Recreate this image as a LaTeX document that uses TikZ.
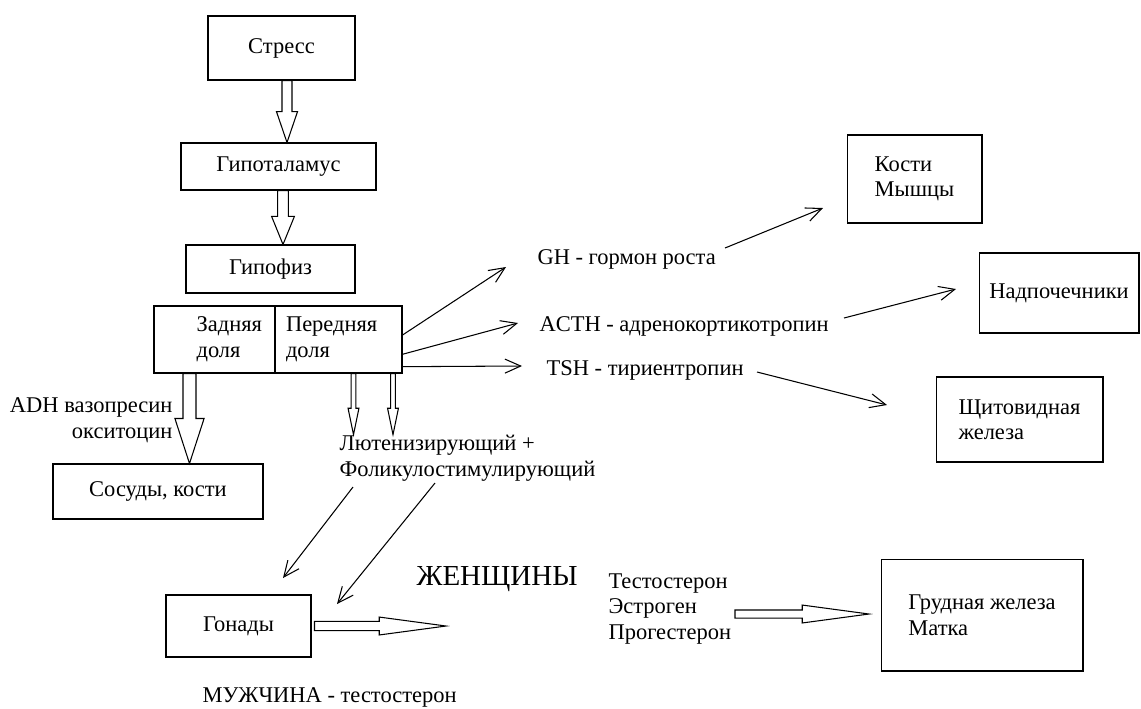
\documentclass[tikz,border=0pt]{standalone}
\usepackage{fontspec}
\setmainfont{Liberation Serif}
\usetikzlibrary{arrows.meta,calc}

\newcommand{\boxfont}{\fontsize{12.8}{14.5}\selectfont}
% hollow block arrows: #1 tail, #2 tip, #3 shaft half, #4 head half, #5 head length
\newcommand{\hollowdown}[5]{%
  \draw[blockarrow] let \p1=(#1), \p2=(#2) in
    (\x1-#3,\y1) -- (\x1-#3,\y2+#5) -- (\x1-#4,\y2+#5) -- (\x1,\y2)
    -- (\x1+#4,\y2+#5) -- (\x1+#3,\y2+#5) -- (\x1+#3,\y1) -- cycle;}
\newcommand{\hollowright}[5]{%
  \draw[blockarrow] let \p1=(#1), \p2=(#2) in
    (\x1,\y1+#3) -- (\x2-#5,\y1+#3) -- (\x2-#5,\y1+#4) -- (\x2,\y1)
    -- (\x2-#5,\y1-#4) -- (\x2-#5,\y1-#3) -- (\x1,\y1-#3) -- cycle;}

\begin{document}
\begin{tikzpicture}[x=0.02cm, y=-0.02cm, line width=0.6pt,
  box/.style={draw, inner sep=0pt, align=center, font=\boxfont},
  lbl/.style={inner sep=0pt, font=\boxfont},
  thinarrow/.style={-{Straight Barb[length=9pt,width=8pt]}},
  blockarrow/.style={draw, fill=white, line join=miter}]
\useasboundingbox (0,0) rectangle (1141,708);

% --- left column ---
\node[box, minimum width=2.94cm, minimum height=1.28cm] (stress) at (281.5,48) {Стресс};
\node[box, minimum width=3.9cm, minimum height=0.94cm] (hypothal) at (278.5,166.5) {Гипоталамус};
\node[box, minimum width=3.38cm, minimum height=0.96cm] (hypophys) at (270.5,269) {Гипофиз};
\node[box, text width=1.9cm, align=right, inner xsep=0.26cm, minimum height=1.34cm]
  (back) at (214.5,339.5) {\begin{tabular}{@{}l@{}}Задняя\\доля\end{tabular}};
\node[box, text width=2.1cm, align=left, inner xsep=0.22cm, minimum height=1.34cm]
  (front) at (338.5,339.5) {Передняя\\доля};
\node[box, minimum width=4.2cm, minimum height=1.1cm] (vessels) at (158,491.5) {Сосуды, кости};
\node[box, minimum width=2.9cm, minimum height=1.24cm] (gonads) at (238.5,626) {Гонады};

\hollowdown{stress.south -| 287,0}{hypothal.north -| 287,0}{2.85pt}{6pt}{17.6pt}
\hollowdown{hypothal.south -| 283,0}{hypophys.north -| 283,0}{3.1pt}{6.5pt}{16pt}

% --- hormones of the lobes ---
\node[lbl, align=right, anchor=east] (adh) at (173,420) {ADH вазопресин\\окситоцин};
\node[lbl, align=left, anchor=west] (lhfsh) at (339,458) {Лютенизирующий +\\Фоликулостимулирующий};
\node[lbl, anchor=west] (gh) at (537,259) {GH - гормон роста};
\node[lbl, anchor=west] (acth) at (539,326) {ACTH - адренокортикотропин};
\node[lbl, anchor=west] (tsh) at (546,370) {TSH - тириентропин};

\hollowdown{back.south -| 189.5,0}{vessels.north -| 189.5,0}{3.7pt}{8.3pt}{25.6pt}
\hollowdown{front.south -| 353.5,0}{lhfsh.north -| 353.5,0}{1.4pt}{3.1pt}{15pt}
\hollowdown{front.south -| 393,0}{lhfsh.north -| 393,0}{1.4pt}{3.1pt}{15pt}

% --- targets ---
\node[box, align=left, minimum width=2.7cm, minimum height=1.76cm] (bones) at (914.5,179) {Кости\\Мышцы};
\node[box, minimum width=3.2cm, minimum height=1.6cm] (adrenal) at (1059,293) {Надпочечники};
\node[box, align=left, minimum width=3.34cm, minimum height=1.7cm] (thyroid) at (1019.5,419.5) {Щитовидная\\железа};
\node[box, align=left, minimum width=4.04cm, minimum height=2.24cm] (breast) at (982,615) {Грудная железа\\Матка};

\coordinate (gh-in) at (506,267);
\coordinate (acth-in) at (518,323);
\coordinate (tsh-in) at (522,366);
\coordinate (gh-out) at (725,248);
\coordinate (bones-in) at (823,208);
\coordinate (acth-out) at (844,318);
\coordinate (adrenal-in) at (956,289);
\coordinate (tsh-out) at (757,372);
\coordinate (thyroid-in) at (887,405);
\coordinate (fsh-out1) at (353,487);
\coordinate (gonads-in1) at (283,578);
\coordinate (fsh-out2) at (435,483);
\coordinate (gonads-in2) at (337,604);

\draw[thinarrow] (front.4) -- (gh-in);
\draw[thinarrow] (front.-13) -- (acth-in);
\draw[thinarrow] (front.-23) -- (tsh-in);
\draw[thinarrow] (gh-out) -- (bones-in);
\draw[thinarrow] (acth-out) -- (adrenal-in);
\draw[thinarrow] (tsh-out) -- (thyroid-in);
\draw[thinarrow] (fsh-out1) -- (gonads-in1);
\draw[thinarrow] (fsh-out2) -- (gonads-in2);

% --- sex hormones ---
\node[lbl, font=\fontsize{16.5}{19}\selectfont, anchor=west] (women) at (416,579) {ЖЕНЩИНЫ};
\node[lbl, align=left, anchor=west] (steroids) at (608,609) {Тестостерон\\Эстроген\\Прогестерон};
\node[lbl, anchor=west] (men) at (202,697) {МУЖЧИНА - тестостерон};

\coordinate (gonads-tip) at (446,627);
\coordinate (steroids-tail) at (735,614);
\coordinate (breast-tip) at (869,614);
\hollowright{[xshift=0.06cm]gonads.east}{gonads-tip}{2.6pt}{5.1pt}{38pt}
\hollowright{steroids-tail}{breast-tip}{2.3pt}{5.1pt}{38pt}
\end{tikzpicture}
\end{document}
